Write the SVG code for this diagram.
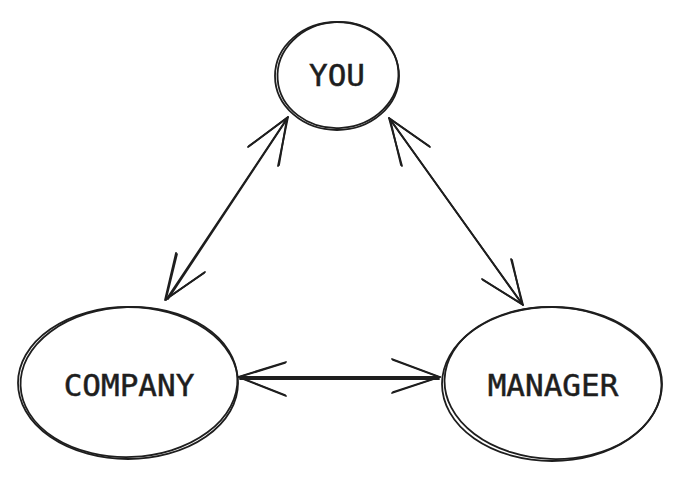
<svg xmlns="http://www.w3.org/2000/svg" width="681" height="480" viewBox="0 0 681 480">
<style>
.s{fill:none;stroke:#1e1e1e;stroke-width:1.8;stroke-linecap:round;stroke-linejoin:round}
.t{font-family:"DejaVu Sans Mono","Liberation Mono",monospace;font-size:31px;fill:#1e1e1e;stroke:#1e1e1e;stroke-width:0.5;text-anchor:middle}
</style>
<rect width="681" height="480" fill="#ffffff"/>
<g id="connectors" class="s">
<g id="edge-you-company">
<path d="M166,300 L288,117"/>
<path d="M168,299 L287,119"/>
<path d="M248,147 L288,117 L278,166"/>
<path d="M249,146 L287,118 L279,165"/>
<path d="M176,253 L165,300 L205,272"/>
<path d="M177,254 L166,299 L204,273"/>
</g>
<g id="edge-you-manager">
<path d="M389,118 L523,305"/>
<path d="M390,119 L522,304"/>
<path d="M430,147 L389,118 L402,166"/>
<path d="M429,146 L390,119 L401,165"/>
<path d="M482,279 L523,305 L511,259"/>
<path d="M483,280 L522,304 L512,260"/>
</g>
<g id="edge-company-manager">
<path d="M238,377 L440,377"/>
<path d="M240,379 L439,379"/>
<path d="M286,362 L238,377 L286,396"/>
<path d="M285,363 L239,377 L285,395"/>
<path d="M392,359 L440,377 L392,393"/>
<path d="M393,360 L439,377 L393,392"/>
</g>
</g>
<g id="node-you">
<ellipse class="s" cx="337" cy="76" rx="62" ry="54"/>
<ellipse class="s" cx="338" cy="75" rx="60.5" ry="53" transform="rotate(-4 338 75)"/>
<text class="t" x="337" y="86">YOU</text>
</g>
<g id="node-company">
<ellipse class="s" cx="128" cy="383" rx="110" ry="76"/>
<ellipse class="s" cx="129" cy="382" rx="108.5" ry="75" transform="rotate(-2 129 382)"/>
<text class="t" x="129" y="396">COMPANY</text>
</g>
<g id="node-manager">
<ellipse class="s" cx="552" cy="384" rx="110" ry="77"/>
<ellipse class="s" cx="553" cy="383" rx="108.5" ry="76" transform="rotate(2 553 383)"/>
<text class="t" x="553" y="396">MANAGER</text>
</g>
</svg>
